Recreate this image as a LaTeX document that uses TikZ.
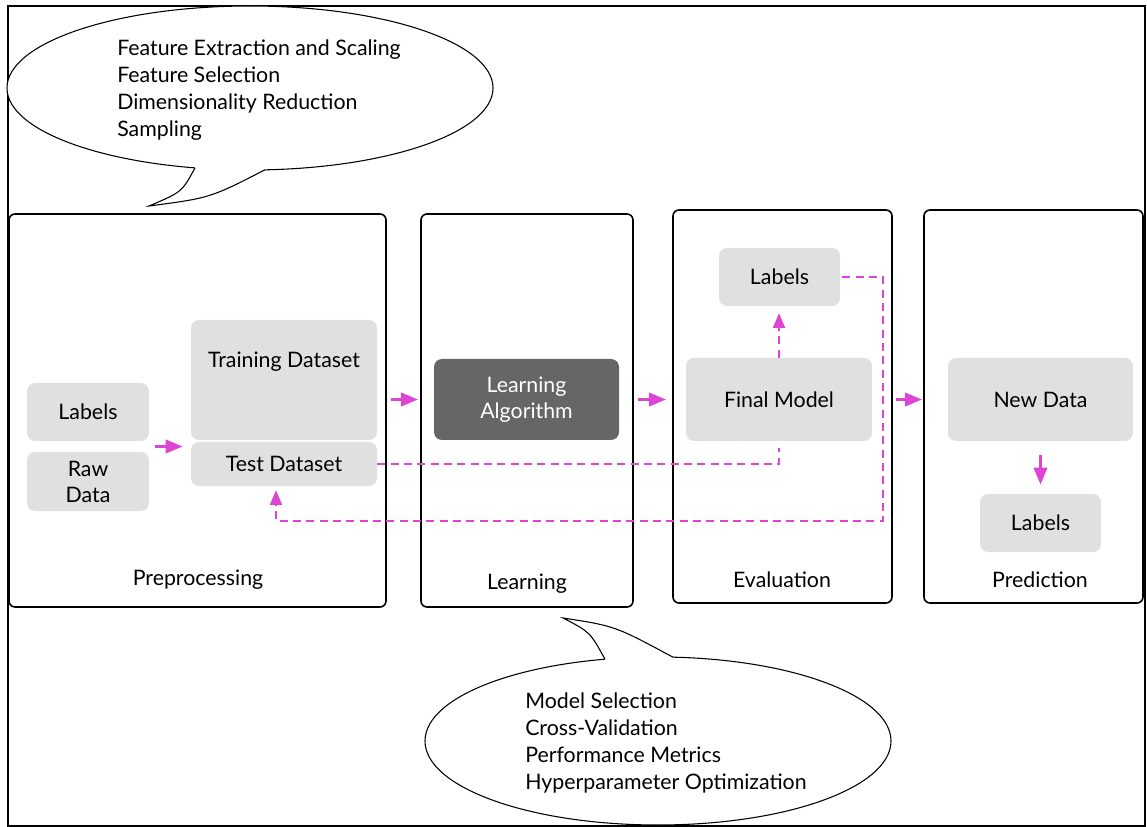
\documentclass[tikz,border=0pt]{standalone}
\usepackage{fontspec}
\setmainfont{Lato}
\usetikzlibrary{arrows.meta,calc,positioning}

\definecolor{boxgray}{RGB}{224,224,224}
\definecolor{algogray}{RGB}{102,102,102}
\definecolor{arrowpink}{RGB}{222,68,211}

\tikzset{
  stagebox/.style={draw,line width=1.2pt,rounded corners=4.5pt,inner sep=0pt},
  databox/.style={fill=boxgray,rounded corners=6pt,inner sep=0pt,align=center},
  calltext/.style={align=left,inner sep=0pt,font=\fontsize{16}{20.25}\selectfont},
  flow/.style={-{Triangle[length=12.75pt,width=9.75pt]},line width=2.5pt,arrowpink},
  dashflow/.style={arrowpink,line width=1.5pt,dash pattern=on 6pt off 4pt},
  dashtip/.style={-{Triangle[length=11pt,width=9pt]}},
}

\begin{document}
\begin{tikzpicture}[x=0.75pt,y=-0.75pt,font=\fontsize{16}{19.5}\selectfont]
    \useasboundingbox (0,0) rectangle (1147,827);
    \draw[line width=1.5pt] (8,6) rectangle (1145,826);

    % callouts
    \draw[fill=white,line width=0.8pt] (250,88) ellipse [x radius=182.25pt,y radius=61.5pt];
    \fill[white] (195,167.9) .. controls (182,192) .. (149,206) .. controls (210,198) .. (265,169.8) -- (265,160) -- (195,160) -- cycle;
    \draw[line width=0.8pt] (195,167.9) .. controls (182,192) .. (149,206) .. controls (210,198) .. (265,169.8);
    \node[calltext,anchor=west] (prepnotes) at (117,90) {Feature Extraction and Scaling\\Feature Selection\\Dimensionality Reduction\\Sampling};

    \draw[fill=white,line width=0.8pt] (658,741) ellipse [x radius=174.75pt,y radius=63pt];
    \fill[white] (605,659.2) .. controls (590,632) .. (563,618) .. controls (615,626) .. (673,657.2) -- (673,667) -- (605,667) -- cycle;
    \draw[line width=0.8pt] (605,659.2) .. controls (590,632) .. (563,618) .. controls (615,626) .. (673,657.2);
    \node[calltext,anchor=west] (learnnotes) at (525,743) {Model Selection\\Cross-Validation\\Performance Metrics\\Hyperparameter Optimization};

    % stages
    \node[stagebox,minimum width=282.75pt,minimum height=294.75pt] (prep) at (197.5,410.5) {};
    \node[stagebox,minimum width=159pt,minimum height=294.75pt] (learn) at (527,410.5) {};
    \node[stagebox,minimum width=164.25pt,minimum height=294.75pt] (eval) at (782.5,406.5) {};
    \node[stagebox,minimum width=164.25pt,minimum height=294.75pt] (pred) at (1033.5,406.5) {};
    \node (prepname) at (198,580) {Preprocessing};
    \node (learnname) at (527,584) {Learning};
    \node (evalname) at (782,580) {Evaluation};
    \node (predname) at (1040,580) {Prediction};

    \node[databox,minimum width=91.5pt,minimum height=43.5pt] (prepLabels) at (88,412) {Labels};
    \node[databox,minimum width=91.5pt,minimum height=44.25pt] (rawData) at (88,481.5) {Raw\\Data};
    \node[databox,minimum width=139.5pt,minimum height=90pt] (train) at (284,380) {};
    \node (trainname) at (284,362) {Training Dataset};
    \node[databox,minimum width=139.5pt,minimum height=33pt] (test) at (284,464) {Test Dataset};
    \node[databox,fill=algogray,text=white,minimum width=138.75pt,minimum height=60.75pt] (algo) at (526.5,399.5) {Learning\\Algorithm};
    \node[databox,minimum width=90.75pt,minimum height=43.5pt] (evalLabels) at (779.5,277) {Labels};
    \node[databox,minimum width=139.5pt,minimum height=62.25pt] (final) at (779,399.5) {Final Model};
    \node[databox,minimum width=138.75pt,minimum height=62.25pt] (newData) at (1040.5,399.5) {New Data};
    \node[databox,minimum width=90.75pt,minimum height=43.5pt] (predLabels) at (1040.5,523) {Labels};

    % arrows
    \coordinate (split) at ($(prepLabels.south east)!.5!(rawData.north east)$);
    \draw[flow,shorten <=4pt,shorten >=6pt] (split) -- (split -| test.west);
    \draw[flow,shorten <=3pt,shorten >=1.5pt] (prep.east |- algo.west) -- (learn.west |- algo.west);
    \draw[flow,shorten <=3pt,shorten >=4.5pt] (learn.east |- algo.west) -- (eval.west |- algo.west);
    \draw[flow,shorten <=2.25pt,shorten >=0.75pt] (eval.east |- final.east) -- (pred.west |- final.east);
    \draw[flow,shorten <=10.5pt,shorten >=6.75pt] (newData.south) -- (predLabels.north);
    \draw[dashflow,dashtip,shorten >=5.25pt] (final.north) -- (final.north |- evalLabels.south);
    \draw[dashflow] (test.east) -| ([yshift=-5.25pt]final.south);
    \coordinate (back) at (883,521);
    \draw[dashflow,dashtip] ([xshift=1.5pt]evalLabels.east) -| (back) -| ([xshift=-6pt,yshift=-3pt]test.south);
  \end{tikzpicture}
\end{document}
